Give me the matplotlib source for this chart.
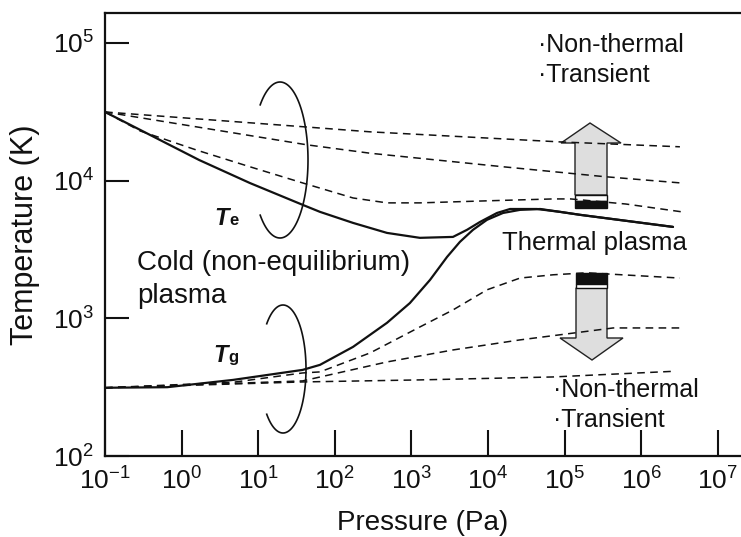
import numpy as np
import matplotlib
matplotlib.use("Agg")
import matplotlib.pyplot as plt
from matplotlib.patches import Polygon, Rectangle

plt.rcParams['font.family'] = ['Liberation Sans', 'DejaVu Sans']
plt.rcParams['mathtext.fontset'] = 'custom'
plt.rcParams['mathtext.rm'] = 'Liberation Sans'
plt.rcParams['mathtext.it'] = 'Liberation Sans:italic'
plt.rcParams['mathtext.bf'] = 'Liberation Sans:bold'

# --- curves (pressure in Pa, temperature in K) ---
te_p = [0.1, 0.29, 1.7, 7.8, 38, 64, 173, 480, 1290, 3490, 5320, 7870, 13100, 19400,
        43600, 87000, 1.6e5, 2.6e6]
te_t = [31500, 23300, 14100, 9600, 6670, 5930, 4930, 4170, 3840, 3900, 4390, 5010, 5820, 6220,
        6220, 5930, 5640, 4610]

tg_p = [0.1, 0.65, 4.7, 38, 64, 173, 480, 955, 1750, 2920, 4300, 6370, 9700, 15700, 26200,
        48000, 87000, 1.6e5, 2.6e6]
tg_t = [313, 316, 357, 422, 459, 620, 927, 1290, 1900, 2790, 3590, 4390, 5190, 5820, 6130,
        6220, 5930, 5640, 4610]

# non-equilibrium electron temperature (dashed)
te1_p = [0.1, 43, 290, 87000, 3.2e6]
te1_t = [31500, 24500, 22600, 19100, 17600]
te2_p = [0.1, 43, 290, 15800, 3.2e5, 3.4e6]
te2_t = [31500, 18200, 15800, 12600, 10700, 9600]
te3_p = [0.1, 0.29, 1.6, 7.8, 38, 173, 480, 1290, 9700, 70800, 1.2e5, 6.3e5, 3.4e6]
te3_t = [31500, 22900, 16600, 12600, 9620, 7480, 6890, 6890, 7130, 7360, 7360, 6760, 5930]

# non-equilibrium gas temperature (dashed)
tg1_p = [0.1, 38, 1290, 70800, 2.6e6]
tg1_t = [313, 345, 357, 375, 412]
tg2_p = [0.1, 38, 480, 3490, 26200, 87000, 4.3e5, 3.2e6]
tg2_t = [313, 351, 482, 589, 697, 759, 851, 851]
tg3_p = [0.1, 4.7, 38, 64, 290, 1290, 3490, 9700, 26200, 70800, 1.95e5, 3.2e6]
tg3_t = [313, 343, 401, 408, 561, 865, 1150, 1610, 1960, 2070, 2140, 1960]

xtick_vals = [1e-1, 1e0, 1e1, 1e2, 1e3, 1e4, 1e5, 1e6, 1e7]
ytick_vals = [1e2, 1e3, 1e4, 1e5]

W, H = 741, 537
L, R, T, B = 105, 741, 13, 456


def ax_xy(px, py):
    # pixel position in the reference -> axes fraction
    return (px - L) / (R - L), (B - py) / (B - T)


fig = plt.figure(figsize=(W / 100, H / 100), dpi=100)
ax = fig.add_axes([L / W, (H - B) / H, (R - L) / W, (B - T) / H])
ax.set_xscale('log')
ax.set_yscale('log')
ax.set_xlim(1e-1, 10 ** (-1 + (R - L) / 76.6))
ax.set_ylim(1e2, 10 ** (2 + (B - T) / 137.7))

ink = '#111111'
ax.plot(te_p, te_t, color=ink, lw=1.6, solid_capstyle='round', zorder=4)
ax.plot(tg_p, tg_t, color=ink, lw=1.6, solid_capstyle='round', zorder=4)
for p, t in [(te1_p, te1_t), (te2_p, te2_t), (te3_p, te3_t),
             (tg1_p, tg1_t), (tg2_p, tg2_t), (tg3_p, tg3_t)]:
    ax.plot(p, t, color=ink, lw=1.1, ls=(0, (5, 3.5)), zorder=4)

ax.set_xticks(xtick_vals)
ax.set_yticks(ytick_vals)
ax.minorticks_off()
ax.tick_params(axis='x', direction='in', length=19, width=1.5, labelsize=19, pad=8, colors=ink)
ax.tick_params(axis='y', direction='in', length=17, width=1.5, labelsize=19, pad=8, colors=ink)
for s in ['left', 'top', 'bottom']:
    ax.spines[s].set_linewidth(1.6)
    ax.spines[s].set_color(ink)
ax.spines['right'].set_visible(False)

ax.set_xlabel('Pressure (Pa)', fontsize=20, color=ink, labelpad=11)
ax.set_ylabel('Temperature (K)', fontsize=22, color=ink, labelpad=9)

# rotation symbols: open ellipses, gap on the left
ang = np.deg2rad(np.linspace(-135, 135, 120))
for cx, cy, a, b in [(280, 160, 28, 78), (283, 369, 23, 64)]:
    pts = [ax_xy(cx + a * np.cos(t), cy - b * np.sin(t)) for t in ang]
    xs, ys = zip(*pts)
    ax.plot(xs, ys, transform=ax.transAxes, color=ink, lw=1.2, zorder=4)

# arrows (under the curves)
grey = '#dedede'
up = [(575, 195), (575, 143), (561, 143), (590, 123), (621, 143), (607, 143), (607, 195)]
ax.add_patch(Polygon([ax_xy(*v) for v in up], closed=True, transform=ax.transAxes,
                     facecolor=grey, edgecolor='#222222', lw=1.0, zorder=2))
down = [(576, 288), (576, 338), (560, 338), (592, 360), (623, 338), (607, 338), (607, 288)]
ax.add_patch(Polygon([ax_xy(*v) for v in down], closed=True, transform=ax.transAxes,
                     facecolor=grey, edgecolor='#222222', lw=1.0, zorder=2))


def band(x1, x2, y1, y2, fc):
    a = ax_xy(x1, y2)
    b = ax_xy(x2, y1)
    ax.add_patch(Rectangle(a, b[0] - a[0], b[1] - a[1], transform=ax.transAxes,
                           facecolor=fc, edgecolor='#111111', lw=1.0, zorder=2))


band(575, 607, 195, 201, 'white')
band(575, 607, 201, 208, '#111111')
band(576, 607, 273, 284, '#111111')
band(576, 607, 284, 288, 'white')


# labels
def label(px, py, s, fs, **kw):
    x, y = ax_xy(px, py)
    ax.text(x, y, s, transform=ax.transAxes, fontsize=fs, color=ink, va='baseline', ha='left',
            zorder=5, **kw)


label(538, 52, '\u00b7Non-thermal', 18)
label(538, 82, '\u00b7Transient', 18)
label(553, 397, '\u00b7Non-thermal', 18)
label(553, 427, '\u00b7Transient', 18)
label(502, 250, 'Thermal plasma', 18.5)
label(137, 270, 'Cold (non-equilibrium)', 20)
label(137, 303, 'plasma', 20)
label(214, 225, 'T', 17, fontweight='bold', fontstyle='italic')
label(229, 225, 'e', 12, fontweight='bold')
label(213, 362, 'T', 17, fontweight='bold', fontstyle='italic')
label(228, 362, 'g', 12, fontweight='bold')

fig.savefig('out.png', dpi=100)
